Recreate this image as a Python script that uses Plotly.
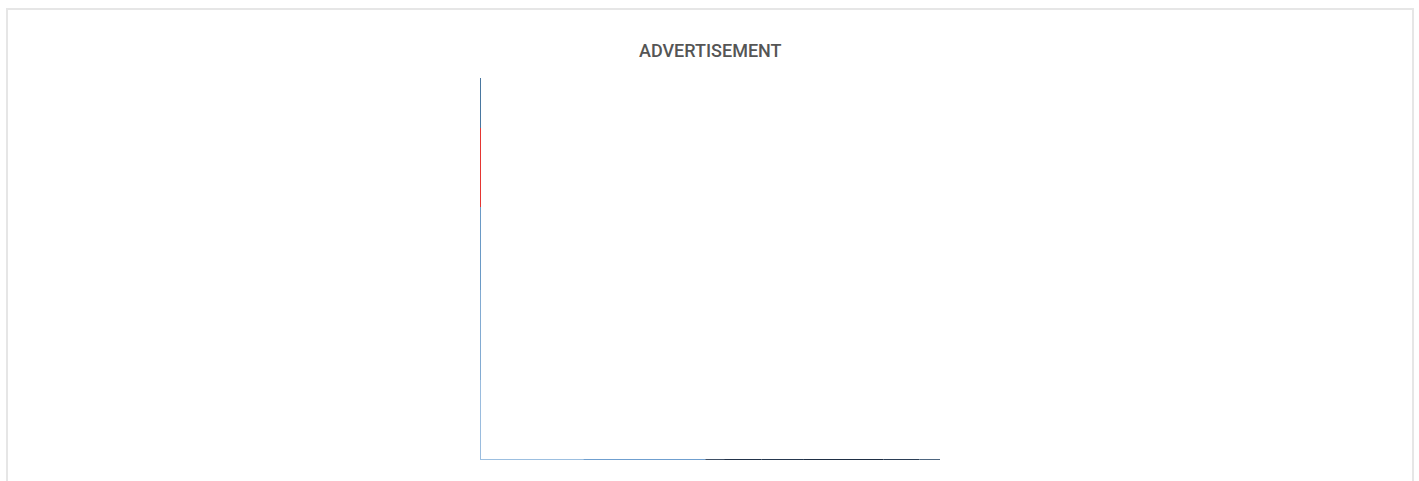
import plotly.graph_objects as go

# Vertical stacked segments (bottom to top): lengths and colours
v_lengths = [80, 90, 83, 79, 50]
v_colors = ["#8fb5db", "#74a2cd", "#5a8fc0", "#e3201b", "#356896"]

# Horizontal stacked segments (left to right): lengths and colours
h_lengths = [110, 130, 20, 40, 45, 85, 38, 22]
h_colors = ["#9cbfe0", "#6f9fcf", "#2a3d55", "#22334a", "#26384f", "#1f2f45", "#2b3e56", "#3a5572"]

title_text = "ADVERTISEMENT"

fig = go.Figure()

pos = 0
for length, color in zip(v_lengths, v_colors):
    fig.add_trace(go.Scatter(x=[0, 0], y=[pos, pos + length], mode="lines",
                             line=dict(color=color, width=1.8), cliponaxis=False,
                             hoverinfo="skip", showlegend=False))
    pos += length

pos = 0
for length, color in zip(h_lengths, h_colors):
    fig.add_trace(go.Scatter(x=[pos, pos + length], y=[0, 0], mode="lines",
                             line=dict(color=color, width=1.8), cliponaxis=False,
                             hoverinfo="skip", showlegend=False))
    pos += length

W, H = 1419, 481
L, T = 480, 78
R = W - 940
B = H - 460
pw = W - L - R
ph = H - T - B

def px_x(p):
    return (p - L) / pw

def px_y(p):
    return (H - B - p) / ph

fig.add_shape(type="rect", xref="paper", yref="paper",
              x0=px_x(7), x1=px_x(1413), y0=px_y(495), y1=px_y(9),
              line=dict(color="#e6e6e6", width=2), fillcolor="rgba(0,0,0,0)", layer="below")

fig.add_annotation(text=title_text, xref="paper", yref="paper",
                   x=0.5, y=px_y(50), xanchor="center", yanchor="middle",
                   showarrow=False,
                   font=dict(family="Roboto, Arial", size=18, color="#555555", weight=500))

fig.update_layout(
    width=W, height=H,
    margin=dict(l=L, r=R, t=T, b=B),
    paper_bgcolor="white", plot_bgcolor="white",
    xaxis=dict(range=[0, sum(h_lengths)], visible=False, fixedrange=True),
    yaxis=dict(range=[0, sum(v_lengths)], visible=False, fixedrange=True),
    showlegend=False,
)

fig.write_html("out.html", config={"displayModeBar": False})

with open("out.html", "r", encoding="utf-8") as f:
    html = f.read()
html = html.replace("<body>", '<body style="margin:0;overflow:hidden">', 1)
with open("out.html", "w", encoding="utf-8") as f:
    f.write(html)
